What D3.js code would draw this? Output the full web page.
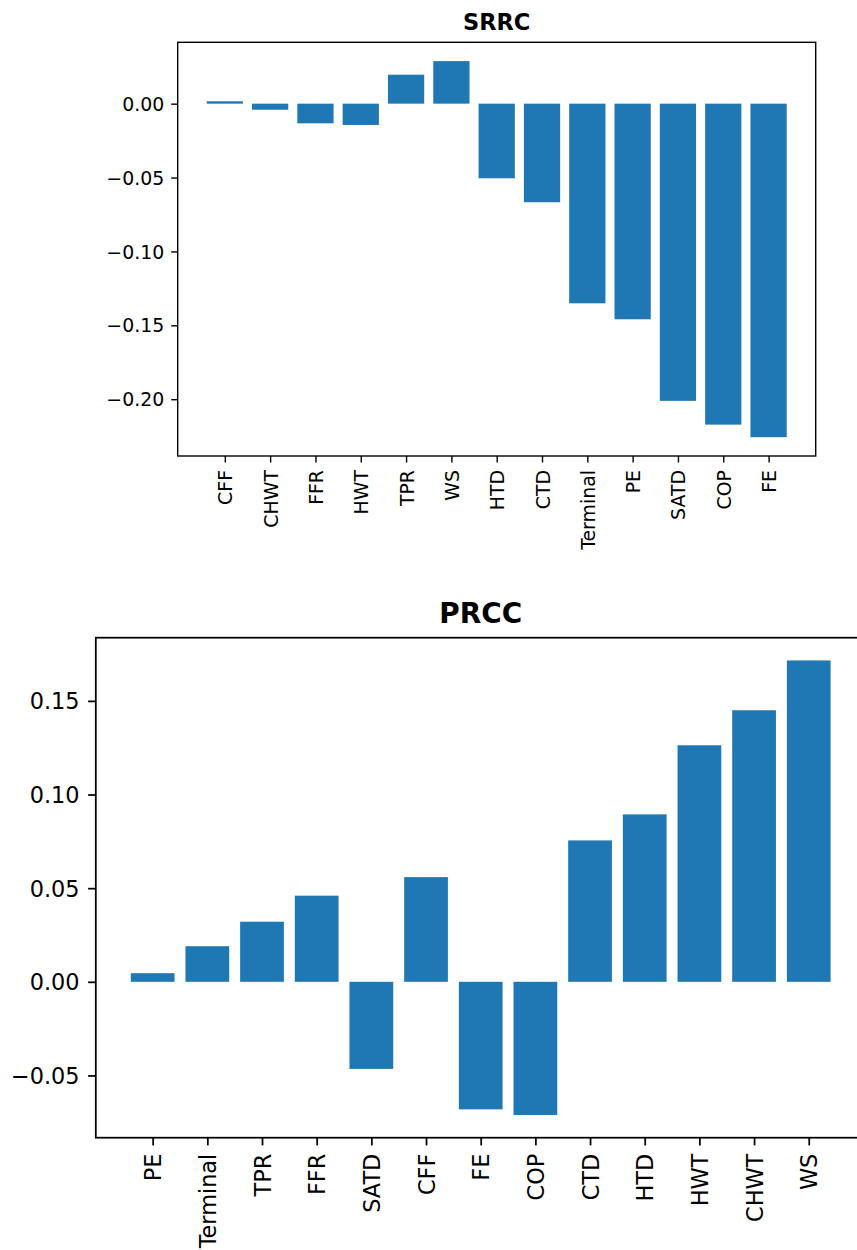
<!DOCTYPE html>
<html>
<head>
<meta charset="utf-8">
<script src="https://cdn.jsdelivr.net/npm/d3@7"></script>
<style>
  html, body { margin: 0; padding: 0; background: #fff; }
  svg { display: block; }
  text { font-family: "DejaVu Sans", sans-serif; fill: #000; }
</style>
</head>
<body>
<svg id="chart" width="857" height="1250"></svg>
<script>
// Sensitivity coefficients per input parameter
const srrcCategories = ["CFF", "CHWT", "FFR", "HWT", "TPR", "WS", "HTD", "CTD", "Terminal", "PE", "SATD", "COP", "FE"];
const srrcValues = [0.0016, -0.0041, -0.0133, -0.0144, 0.0196, 0.0288, -0.0505, -0.0667, -0.1351, -0.1459, -0.2011, -0.2172, -0.2257];
const srrcTicks = [-0.20, -0.15, -0.10, -0.05, 0.00];

const prccCategories = ["PE", "Terminal", "TPR", "FFR", "SATD", "CFF", "FE", "COP", "CTD", "HTD", "HWT", "CHWT", "WS"];
const prccValues = [0.0046, 0.0190, 0.0321, 0.0460, -0.0465, 0.0559, -0.0681, -0.0711, 0.0755, 0.0894, 0.1263, 0.1450, 0.1716];
const prccTicks = [-0.05, 0.00, 0.05, 0.10, 0.15];

const svg = d3.select("#chart");
const barColor = "#1f77b4";
const fmt = v => d3.format(".2f")(v).replace("-", "\u2212");

function drawPanel(title, categories, values, ticks, box) {
  const g = svg.append("g");
  const n = categories.length;
  const barW = 0.8;
  // x limits: bars span [-0.4, n-0.6], padded by 5% each side
  const xLo = -barW / 2, xHi = n - 1 + barW / 2;
  const xPad = (xHi - xLo) * 0.05;
  const x = d3.scaleLinear().domain([xLo - xPad, xHi + xPad]).range([box.left, box.right]);

  const yMin = Math.min(0, d3.min(values)), yMax = Math.max(0, d3.max(values));
  const yPad = (yMax - yMin) * 0.05;
  const y = d3.scaleLinear().domain([yMin - yPad, yMax + yPad]).range([box.bottom, box.top]);

  // bars
  g.selectAll("rect.bar")
    .data(values)
    .join("rect")
    .attr("class", "bar")
    .attr("x", (d, i) => x(i - barW / 2))
    .attr("width", (d, i) => x(i + barW / 2) - x(i - barW / 2))
    .attr("y", d => y(Math.max(0, d)))
    .attr("height", d => Math.abs(y(d) - y(0)))
    .attr("fill", barColor);

  // y axis
  const yAxis = d3.axisLeft(y).tickValues(ticks).tickFormat(fmt)
    .tickSize(box.tick).tickPadding(box.pad);
  const ya = g.append("g").attr("transform", `translate(${box.left},0)`).call(yAxis);
  ya.select(".domain").remove();
  ya.selectAll(".tick line").attr("stroke", "#000").attr("stroke-width", box.lw);
  ya.selectAll(".tick text")
    .attr("font-family", "DejaVu Sans")
    .attr("font-size", box.font)
    .attr("fill", "#000")
    .attr("dy", "0.35em");

  // x axis with rotated category labels
  const xAxis = d3.axisBottom(x).tickValues(d3.range(n)).tickFormat(i => categories[i])
    .tickSize(box.tick).tickPadding(0);
  const xa = g.append("g").attr("transform", `translate(0,${box.bottom})`).call(xAxis);
  xa.select(".domain").remove();
  xa.selectAll(".tick line").attr("stroke", "#000").attr("stroke-width", box.lw);
  xa.selectAll(".tick text")
    .attr("font-family", "DejaVu Sans")
    .attr("font-size", box.font)
    .attr("fill", "#000")
    .attr("y", null)
    .attr("dy", null)
    .attr("text-anchor", "end")
    .attr("dominant-baseline", "central")
    .attr("transform", `translate(0,${box.labelGap}) rotate(-90)`);

  // frame
  g.append("rect")
    .attr("x", box.left).attr("y", box.top)
    .attr("width", box.right - box.left).attr("height", box.bottom - box.top)
    .attr("fill", "none").attr("stroke", "#000").attr("stroke-width", box.lw);

  // title
  g.append("text")
    .attr("x", (box.left + box.right) / 2)
    .attr("y", box.titleY)
    .attr("text-anchor", "middle")
    .attr("font-weight", "bold")
    .attr("font-size", box.titleFont)
    .text(title);
}

drawPanel("SRRC", srrcCategories, srrcValues, srrcTicks, {
  left: 177.7, right: 815.7, top: 42.3, bottom: 456,
  tick: 6.5, pad: 7, lw: 1.4, font: 18.9, labelGap: 14,
  titleY: 30, titleFont: 22.5
});

drawPanel("PRCC", prccCategories, prccValues, prccTicks, {
  left: 95.8, right: 865.6, top: 637.7, bottom: 1137.7,
  tick: 7.7, pad: 8.5, lw: 1.75, font: 22.4, labelGap: 16,
  titleY: 623.3, titleFont: 27.9
});
</script>
</body>
</html>
